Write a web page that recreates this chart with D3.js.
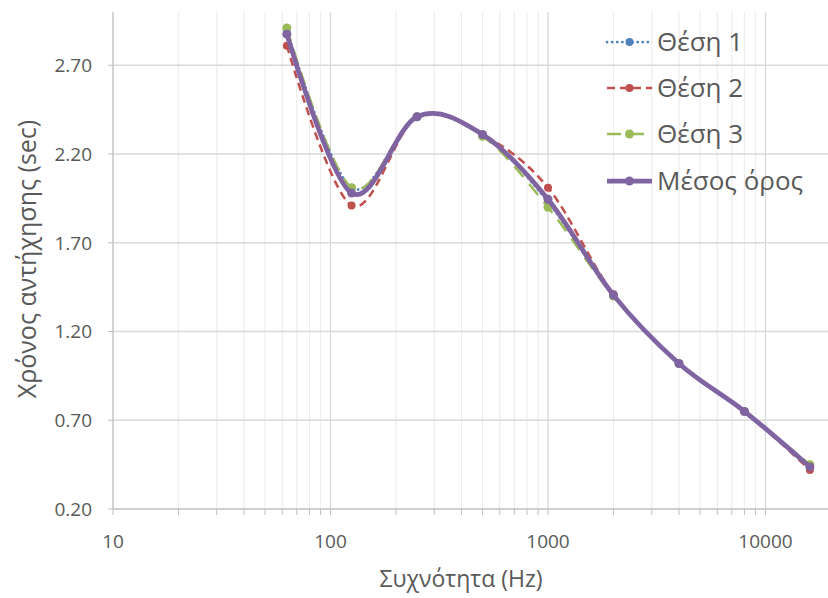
<!DOCTYPE html>
<html><head><meta charset="utf-8">
<script src="https://cdn.jsdelivr.net/npm/d3@7"></script>
<style>
body{margin:0;background:#fff;}
svg{display:block;font-family:"Open Sans","Noto Sans",sans-serif;}
</style></head>
<body><svg id="chart" width="828" height="598"></svg>
<script>
const frequencies = [63, 125, 250, 500, 1000, 2000, 4000, 8000, 16000];
const thesi1 = [2.90, 2.01, 2.41, 2.31, 1.93, 1.40, 1.02, 0.75, 0.44];
const thesi2 = [2.81, 1.91, 2.41, 2.31, 2.01, 1.41, 1.02, 0.75, 0.42];
const thesi3 = [2.91, 2.01, 2.41, 2.30, 1.90, 1.40, 1.02, 0.75, 0.45];
const mesos  = [2.875, 1.98, 2.41, 2.31, 1.945, 1.405, 1.02, 0.75, 0.437];
const seriesNames = ["Θέση 1", "Θέση 2", "Θέση 3", "Μέσος όρος"];
const seriesColors = ["#4F81BD", "#C0504D", "#9BBB59", "#8064A2"];
const yTicks = [0.20, 0.70, 1.20, 1.70, 2.20, 2.70];
const xTicks = [10, 100, 1000, 10000];

const svg = d3.select("#chart");
const pLeft = 113, pTop = 12, pBottom = 509;
const x = d3.scaleLog().domain([10, 100000]).range([pLeft, pLeft + 4 * 217.5]);
const y = d3.scaleLinear().domain([0.2, 3.0]).range([pBottom, pTop]);
const W = 828;

// minor ticks
const minor = [];
for (let d = 10; d < 100000; d *= 10) for (let k = 2; k <= 9; k++) minor.push(d * k);

// vertical minor gridlines
svg.append("g").selectAll("line").data(minor).join("line")
  .attr("x1", d => x(d)).attr("x2", d => x(d)).attr("y1", pTop).attr("y2", pBottom)
  .attr("stroke", "#EDEDED").attr("stroke-width", 1.2);
// vertical major gridlines
svg.append("g").selectAll("line").data(xTicks.slice(1)).join("line")
  .attr("x1", d => x(d)).attr("x2", d => x(d)).attr("y1", pTop).attr("y2", pBottom)
  .attr("stroke", "#D9D9D9").attr("stroke-width", 1.3);
// horizontal gridlines
svg.append("g").selectAll("line").data(yTicks.slice(1)).join("line")
  .attr("x1", pLeft).attr("x2", W).attr("y1", d => y(d)).attr("y2", d => y(d))
  .attr("stroke", "#D9D9D9").attr("stroke-width", 1.3);

// x axis
const xAxis = svg.append("g").attr("transform", `translate(0,${pBottom})`);
xAxis.append("line").attr("x1", pLeft).attr("x2", W).attr("y1", 0).attr("y2", 0)
  .attr("stroke", "#BFBFBF").attr("stroke-width", 1.4);
xAxis.selectAll("line.t").data(xTicks.concat(minor)).join("line").attr("class", "t")
  .attr("x1", d => x(d)).attr("x2", d => x(d)).attr("y1", 0).attr("y2", 6)
  .attr("stroke", "#BFBFBF").attr("stroke-width", 1);
xAxis.selectAll("text").data(xTicks).join("text")
  .attr("x", d => x(d)).attr("y", 39).attr("text-anchor", "middle")
  .attr("font-size", 19).attr("fill", "#595959").text(d => d);

// y axis
const yAxis = svg.append("g");
yAxis.append("line").attr("x1", pLeft).attr("x2", pLeft).attr("y1", pTop).attr("y2", pBottom)
  .attr("stroke", "#BFBFBF").attr("stroke-width", 1.4);
yAxis.selectAll("line.t").data(yTicks).join("line").attr("class", "t")
  .attr("x1", pLeft - 5).attr("x2", pLeft).attr("y1", d => y(d)).attr("y2", d => y(d))
  .attr("stroke", "#BFBFBF").attr("stroke-width", 1);
yAxis.selectAll("text").data(yTicks).join("text")
  .attr("x", 92).attr("y", d => y(d)).attr("dy", "0.36em").attr("text-anchor", "end")
  .attr("font-size", 19).attr("fill", "#595959").text(d => d.toFixed(2));

// axis titles
svg.append("text").attr("x", 461).attr("y", 587).attr("text-anchor", "middle")
  .attr("font-size", 23).attr("fill", "#595959").text("Συχνότητα (Hz)");
svg.append("text").attr("transform", "translate(36,259) rotate(-90)").attr("text-anchor", "middle")
  .attr("font-size", 25).attr("fill", "#595959").text("Χρόνος αντήχησης (sec)");

// series
const allSeries = [thesi1, thesi2, thesi3, mesos];
const dashes = ["0.1,5", "8,5", "14,9", null];
const widths = [2.75, 2.5, 2.5, 4.75];
const radii = [4, 4, 4.5, 4.5];
const line = d3.line().x(d => x(d[0])).y(d => y(d[1])).curve(d3.curveCardinal.tension(0));
allSeries.forEach((vals, i) => {
  const pts = frequencies.map((f, j) => [f, vals[j]]);
  const g = svg.append("g");
  g.append("path").attr("d", line(pts)).attr("fill", "none")
    .attr("stroke", seriesColors[i]).attr("stroke-width", widths[i])
    .attr("stroke-dasharray", dashes[i]).attr("stroke-linecap", i === 0 ? "round" : "butt")
    .attr("stroke-linejoin", "round");
  g.selectAll("circle").data(pts).join("circle")
    .attr("cx", d => x(d[0])).attr("cy", d => y(d[1])).attr("r", radii[i])
    .attr("fill", seriesColors[i]);
});

// legend
const legRows = [42, 88, 134, 181];
const leg = svg.append("g");
seriesNames.forEach((name, i) => {
  const yy = legRows[i];
  leg.append("line").attr("x1", 607).attr("x2", 652).attr("y1", yy).attr("y2", yy)
    .attr("stroke", seriesColors[i]).attr("stroke-width", widths[i])
    .attr("stroke-dasharray", dashes[i]).attr("stroke-linecap", i === 0 ? "round" : "butt");
  leg.append("circle").attr("cx", 629.5).attr("cy", yy).attr("r", radii[i]).attr("fill", seriesColors[i]);
  leg.append("text").attr("x", 657).attr("y", yy).attr("dy", "0.36em")
    .attr("font-size", 26).attr("fill", "#595959").text(name);
});
</script></body></html>
